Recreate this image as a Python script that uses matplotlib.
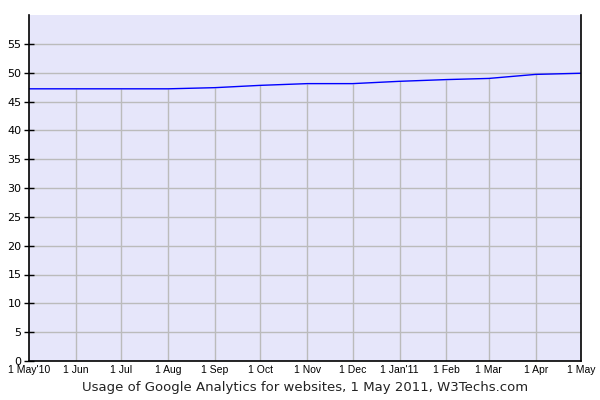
import matplotlib
matplotlib.use("Agg")
import matplotlib.pyplot as plt
import matplotlib.dates as mdates
import datetime as dt

months = ["2010-05-01", "2010-06-01", "2010-07-01", "2010-08-01", "2010-09-01",
          "2010-10-01", "2010-11-01", "2010-12-01", "2011-01-01", "2011-02-01",
          "2011-03-01", "2011-04-01", "2011-05-01"]
values = [47.2, 47.2, 47.2, 47.2, 47.4, 47.8, 48.1, 48.1, 48.5, 48.8, 49.0, 49.7, 49.9]
tick_labels = ["1 May'10", "1 Jun", "1 Jul", "1 Aug", "1 Sep", "1 Oct", "1 Nov",
               "1 Dec", "1 Jan'11", "1 Feb", "1 Mar", "1 Apr", "1 May"]
y_ticks = [0, 5, 10, 15, 20, 25, 30, 35, 40, 45, 50, 55]
title = "Usage of Google Analytics for websites, 1 May 2011, W3Techs.com"

dates = [dt.datetime.strptime(m, "%Y-%m-%d") for m in months]

fig = plt.figure(figsize=(6, 4), dpi=100)
ax = fig.add_axes([29/600, 39/400, 552/600, 346/400])
ax.set_facecolor("#E6E6FA")

ax.set_xlim(dates[0], dates[-1])
ax.set_ylim(0, 60)

for y in y_ticks[1:]:
    ax.axhline(y, color="#BBBBBB", lw=1, zorder=1)
ax.vlines(dates[1:-1], 0, values[1:-1], color="#BBBBBB", lw=1, zorder=1)

ax.plot(dates, values, color="#0000FF", lw=1, zorder=3)

ax.set_yticks(y_ticks)
ax.set_yticklabels([str(v) for v in y_ticks], fontsize=8, family="DejaVu Sans")
ax.set_xticks(dates)
ax.set_xticklabels(tick_labels, fontsize=7.5, family="Liberation Sans")
ax.tick_params(axis="y", direction="inout", length=7, width=1, pad=2, colors="black")
ax.tick_params(axis="x", length=0, pad=3)

ax.spines["top"].set_visible(False)
for s in ["left", "bottom", "right"]:
    ax.spines[s].set_color("black")
    ax.spines[s].set_linewidth(1.2)
    ax.spines[s].set_zorder(4)

fig.text(305/600, 1 - 387/400, title, ha="center", va="center", fontsize=9.5,
         family="DejaVu Sans", color="#222222")

fig.savefig("out.png", dpi=100, facecolor="white")
